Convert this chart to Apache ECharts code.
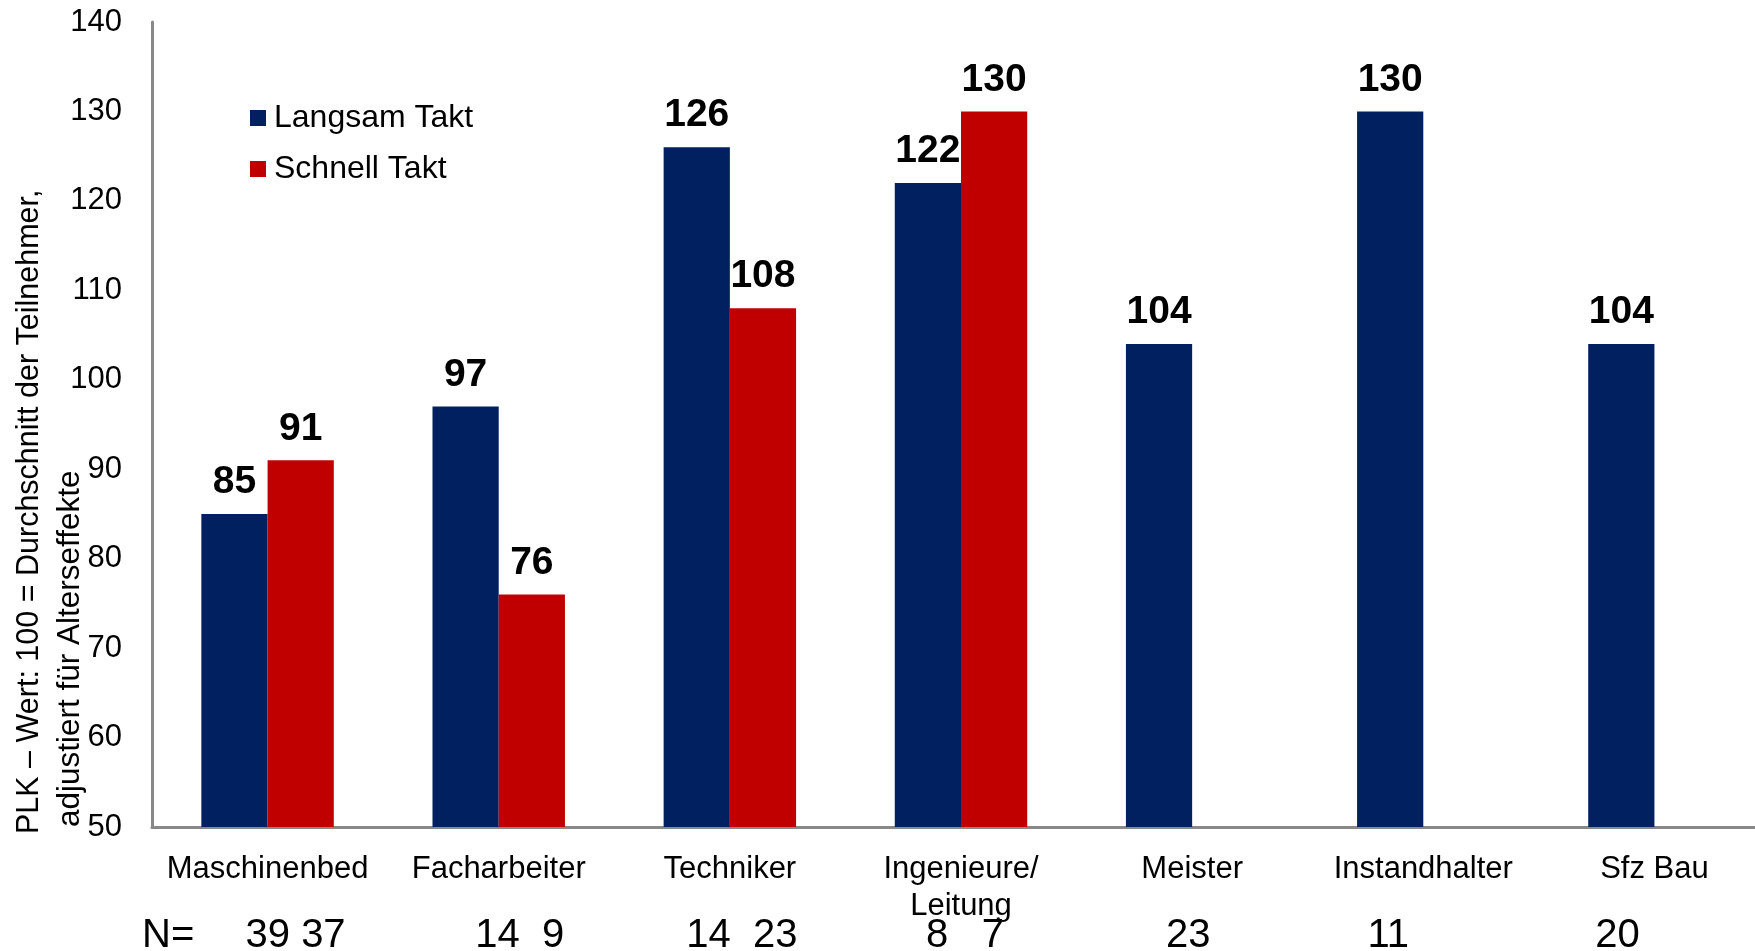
<!DOCTYPE html>
<html><head><meta charset="utf-8">
<script src="https://cdn.jsdelivr.net/npm/echarts@6/dist/echarts.min.js"></script>
<style>html,body{margin:0;padding:0;background:#fff}#c{width:1755px;height:951px}</style>
</head><body><div id="c"></div>
<script>
// ---- data ----
const categories = ['Maschinenbed', 'Facharbeiter', 'Techniker', 'Ingenieure/\nLeitung', 'Meister', 'Instandhalter', 'Sfz Bau'];
const seriesNames = ['Langsam Takt', 'Schnell Takt'];
const langsam = [85, 97, 126, 122, 104, 130, 104];
const schnell = [91, 76, 108, 130, null, null, null];
const nCounts = ['39 37', '14  9', '14  23', '8   7', '23', '11', '20'];
const nPrefix = 'N=';
const yMin = 50, yMax = 140, yInterval = 10;
const axisTitle = ['PLK – Wert: 100 = Durchschnitt der Teilnehmer,', 'adjustiert für Alterseffekte'];

// ---- layout / style ----
const FONT = '"Liberation Sans", Arial, sans-serif';
const nShift = [28, 21, 12, 4, -4, -35, -37];
const titleFont = [30.5, 31.5];
const colors = ['#002060', '#C00000'];

const chart = echarts.init(document.getElementById('c'), null, {renderer: 'canvas'});
const labelCfg = {
  show: true, position: 'top', distance: 12,
  color: '#000', fontFamily: FONT, fontWeight: 'bold', fontSize: 39
};
chart.setOption({
  animation: false,
  backgroundColor: '#fff',
  textStyle: {fontFamily: FONT},
  grid: {left: 152, width: 1618, top: 22, bottom: 124, containLabel: false, outerBoundsMode: 'none'},
  legend: {
    orient: 'vertical', left: 245, top: 97,
    icon: 'rect', itemWidth: 16, itemHeight: 16, itemGap: 19,
    textStyle: {fontFamily: FONT, fontSize: 32, color: '#000', padding: [0, 0, 0, 3]},
    data: seriesNames
  },
  xAxis: {
    type: 'category', data: categories,
    axisLine: {lineStyle: {color: '#898989', width: 3}},
    axisTick: {show: false},
    axisLabel: {fontFamily: FONT, fontSize: 31, color: '#000', margin: 24, lineHeight: 37, interval: 0}
  },
  yAxis: {
    type: 'value', min: yMin, max: yMax, interval: yInterval,
    axisLine: {show: true, lineStyle: {color: '#898989', width: 3}},
    axisTick: {show: false},
    splitLine: {show: false},
    axisLabel: {fontFamily: FONT, fontSize: 31, color: '#000', margin: 30}
  },
  series: [
    {name: seriesNames[0], type: 'bar', data: langsam, barGap: '0%', barCategoryGap: '42.7%',
     itemStyle: {color: colors[0]}, label: labelCfg},
    {name: seriesNames[1], type: 'bar', data: schnell, barGap: '0%', barCategoryGap: '42.7%',
     itemStyle: {color: colors[1]}, label: labelCfg}
  ]
});

const graphics = [];
axisTitle.forEach(function (t, i) {
  graphics.push({
    type: 'text', x: 30 + i * 40, y: 834 - i * 7, rotation: Math.PI / 2,
    style: {text: t, fill: '#000', font: titleFont[i] + 'px ' + FONT, textAlign: 'left', textVerticalAlign: 'middle'}
  });
});
graphics.push({
  type: 'text', x: 142, y: 936,
  style: {text: nPrefix, fill: '#000', font: '40px ' + FONT, textAlign: 'left', textVerticalAlign: 'middle'}
});
nCounts.forEach(function (t, i) {
  const px = chart.convertToPixel({xAxisIndex: 0}, i);
  graphics.push({
    type: 'text', x: px + nShift[i], y: 936,
    style: {text: t, fill: '#000', font: '40px ' + FONT, textAlign: 'center', textVerticalAlign: 'middle'}
  });
});
chart.setOption({graphic: graphics});
</script>
</body></html>
